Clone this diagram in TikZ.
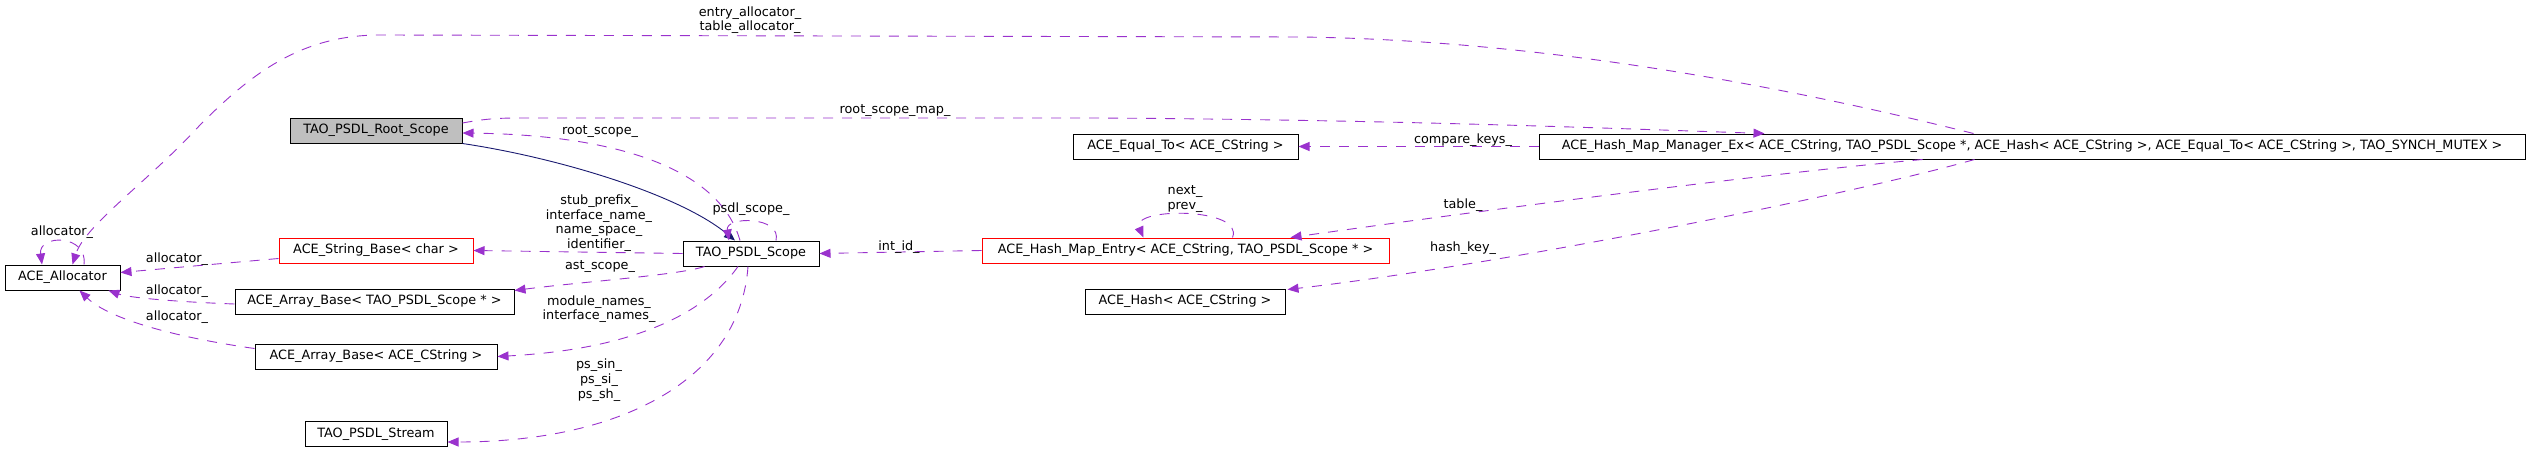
\documentclass[tikz,border=0pt]{standalone}
\usepackage{fontspec}
\setmainfont{DejaVu Sans}
\usetikzlibrary{arrows.meta,calc}
\definecolor{edgepurple}{HTML}{9A32CD}
\definecolor{edgenavy}{HTML}{191970}
\definecolor{boxgray}{HTML}{BFBFBF}
\begin{document}
\begin{tikzpicture}[x=1pt,y=-1pt,
  font=\fontsize{12.8}{14.7}\selectfont,
  cls/.style={draw=black, line width=1pt, rectangle, minimum height=25pt, inner sep=0pt},
  lbl/.style={inner sep=0pt, align=center},
  pedge/.style={draw=edgepurple, line width=0.9pt, dash pattern=on 10pt off 9pt,
    -{Triangle[length=11pt,width=9pt,fill=edgepurple,sep=0pt]}},
  nedge/.style={draw=edgenavy, line width=0.9pt,
    -{Triangle[length=11pt,width=9pt,fill=edgenavy]}}]
\useasboundingbox (0,0) rectangle (2531,452);

% nodes
\node[cls, minimum width=115pt] (alloc) at (62.5,277.5) {ACE\_Allocator};
\node[cls, fill=boxgray, minimum width=172pt] (root) at (376,130.5) {TAO\_PSDL\_Root\_Scope};
\node[cls, draw=red, minimum width=194pt] (sb) at (376,250.5) {ACE\_String\_Base< char >};
\node[cls, minimum width=279pt] (ab1) at (374.5,301.5) {ACE\_Array\_Base< TAO\_PSDL\_Scope * >};
\node[cls, minimum width=242pt] (ab2) at (376,356.5) {ACE\_Array\_Base< ACE\_CString >};
\node[cls, minimum width=142pt] (stream) at (376,434) {TAO\_PSDL\_Stream};
\node[cls, minimum width=136pt] (scope) at (751,253.5) {TAO\_PSDL\_Scope};
\node[cls, draw=red, minimum width=407pt] (hme) at (1185.5,250.5) {ACE\_Hash\_Map\_Entry< ACE\_CString, TAO\_PSDL\_Scope * >};
\node[cls, minimum width=200pt] (hash) at (1185,301.5) {ACE\_Hash< ACE\_CString >};
\node[cls, minimum width=225pt] (eq) at (1185.5,146.5) {ACE\_Equal\_To< ACE\_CString >};
\node[cls, minimum width=986pt] (mgr) at (2032,146.5) {ACE\_Hash\_Map\_Manager\_Ex< ACE\_CString, TAO\_PSDL\_Scope *, ACE\_Hash< ACE\_CString >, ACE\_Equal\_To< ACE\_CString >, TAO\_SYNCH\_MUTEX >};

% edges
\draw[pedge] ($(alloc.north)+(21.5,0)$) .. controls (88,234) and (38,234) .. ($(alloc.north)+(-20.5,0)$);
\draw[pedge] ($(mgr.north west)+(435,0)$) .. controls (1800,90) and (1550,40) .. (1300,37) -- (380,35) .. controls (300,35) and (250,75) .. (200,125) .. controls (150,180) and (85,225) .. ($(alloc.north)+(10,0)$);
\draw[pedge] ($(root.east)+(0,-7.5)$) .. controls (490,118) and (500,118) .. (530,118) -- (1100,118) .. controls (1400,120) and (1600,128) .. ($(mgr.north west)+(226,0)$);
\draw[pedge] ($(scope.north)+(-11,0)$) .. controls (720,170) and (620,135) .. ($(root.east)+(0,2.5)$);
\draw[nedge] (root.south east) .. controls (560,158) and (680,195) .. ($(scope.north)+(-16,0)$);
\draw[pedge] ($(scope.north)+(25,0)$) .. controls (782,216) and (725,216) .. ($(scope.north)+(-22,0)$);
\draw[pedge] (scope.west) -- (sb.east);
\draw[pedge] ($(scope.south west)+(22,0)$) .. controls (680,275) and (580,282) .. ($(ab1.north east)+(0,2)$);
\draw[pedge] ($(scope.south)+(-13,0)$) .. controls (700,320) and (620,350) .. (ab2.east);
\draw[pedge] ($(scope.south)+(-3,0)$) .. controls (740,380) and (620,442) .. ($(stream.east)+(0,8)$);
\draw[pedge] ($(sb.west)+(0,8)$) -- ($(alloc.east)+(0,-5)$);
\draw[pedge] ($(ab1.west)+(0,2.5)$) .. controls (180,302) and (130,298) .. ($(alloc.south east)+(-12,0)$);
\draw[pedge] ($(ab2.west)+(0,-8)$) .. controls (180,338) and (110,320) .. ($(alloc.south)+(17,0)$);
\draw[pedge] (hme.west) -- (scope.east);
\draw[pedge] ($(hme.north)+(47,0)$) .. controls (1245,207) and (1130,207) .. ($(hme.north)+(-42,0)$);
\draw[pedge] (mgr.west) -- (eq.east);
\draw[pedge] ($(mgr.south west)+(384,0)$) .. controls (1750,175) and (1450,215) .. ($(hme.north east)+(-99,0)$);
\draw[pedge] ($(mgr.south west)+(436,0)$) .. controls (1850,195) and (1500,265) .. ($(hash.north east)+(2,1)$);

% labels
\node[lbl] (l1) at (62,232) {allocator\_};
\node[lbl] (l2) at (750,20) {entry\_allocator\_\\table\_allocator\_};
\node[lbl] (l3) at (895,111) {root\_scope\_map\_};
\node[lbl] (l4) at (600,132) {root\_scope\_};
\node[lbl] (l5) at (751,209) {psdl\_scope\_};
\node[lbl] (l6) at (599,223) {stub\_prefix\_\\interface\_name\_\\name\_space\_\\identifier\_};
\node[lbl] (l7) at (600,267) {ast\_scope\_};
\node[lbl] (l8) at (599,309) {module\_names\_\\interface\_names\_};
\node[lbl] (l9) at (599,380) {ps\_sin\_\\ps\_si\_\\ps\_sh\_};
\node[lbl] (l10) at (177,259) {allocator\_};
\node[lbl] (l11) at (177,291) {allocator\_};
\node[lbl] (l12) at (177,317) {allocator\_};
\node[lbl] (l13) at (899,247) {int\_id\_};
\node[lbl] (l14) at (1185,199) {next\_\\prev\_};
\node[lbl] (l15) at (1463,140) {compare\_keys\_};
\node[lbl] (l16) at (1463,205) {table\_};
\node[lbl] (l17) at (1463,248) {hash\_key\_};
\end{tikzpicture}
\end{document}
